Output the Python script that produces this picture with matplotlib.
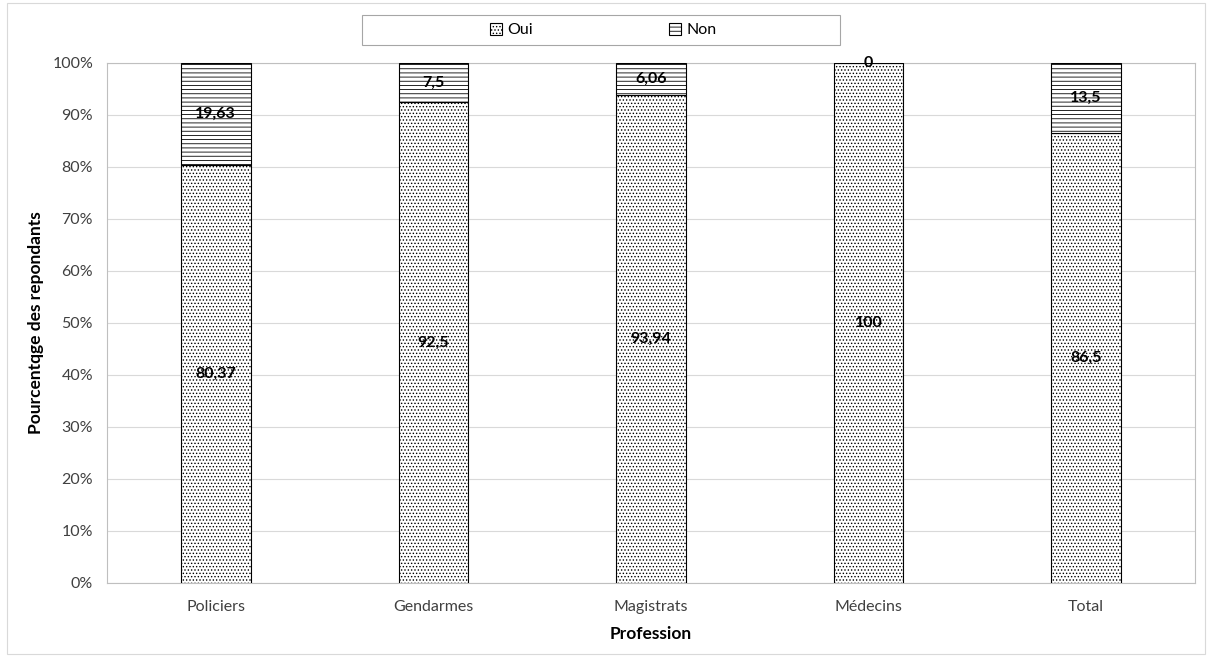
import numpy as np
import matplotlib
matplotlib.use("Agg")
import matplotlib.pyplot as plt
from matplotlib.patches import Rectangle

plt.rcParams['font.family'] = ['Lato', 'DejaVu Sans']
plt.rcParams['hatch.linewidth'] = 0.6

# données
professions = ["Policiers", "Gendarmes", "Magistrats", "Médecins", "Total"]
oui = [80.37, 92.5, 93.94, 100, 86.5]
non = [19.63, 7.5, 6.06, 0, 13.5]
oui_labels = ["80,37", "92,5", "93,94", "100", "86,5"]
non_labels = ["19,63", "7,5", "6,06", "0", "13,5"]

fig = plt.figure(figsize=(12.07, 6.57), dpi=100)
ax = fig.add_axes([107 / 1207, 1 - 583 / 657, 1088 / 1207, 520 / 657])

x = np.arange(len(professions))
w = 0.32
b1 = ax.bar(x, oui, w, color="white", edgecolor="black", hatch=".....", linewidth=0.8, label="Oui", zorder=3)
b2 = ax.bar(x, non, w, bottom=oui, color="white", edgecolor="black", hatch="----", linewidth=0.8, label="Non", zorder=3)

for i in range(len(x)):
    ax.text(x[i], oui[i] / 2, oui_labels[i], ha="center", va="center", fontsize=11.5,
            fontweight="bold", zorder=5)
    ax.text(x[i], oui[i] + non[i] / 2, non_labels[i], ha="center", va="center", fontsize=11.5,
            fontweight="bold", zorder=5)

ax.set_xlim(-0.5, len(x) - 0.5)
ax.set_ylim(0, 100)
ax.set_yticks(np.arange(0, 101, 10))
ax.set_yticklabels([f"{v}%" for v in range(0, 101, 10)])
ax.set_xticks(x)
ax.set_xticklabels(professions)
ax.tick_params(length=0, labelsize=11.5, colors="#404040")
ax.tick_params(axis="x", pad=12)
ax.tick_params(axis="y", pad=10)
ax.grid(axis="y", color="#d9d9d9", linewidth=0.8, zorder=0)
for s in ax.spines.values():
    s.set_color("#bfbfbf")
ax.set_xlabel("Profession", fontsize=12.5, fontweight="bold", labelpad=9)
ax.set_ylabel("Pourcentqge des repondants", fontsize=12.5, fontweight="bold", labelpad=6)

# légende centrée dans un cadre fixe
leg = fig.legend(handles=[b1, b2], loc="center", bbox_to_anchor=(603 / 1207, 1 - 30 / 657),
                 ncol=2, frameon=False, fontsize=11.5,
                 handlelength=0.8, handleheight=0.8, handletextpad=0.3, columnspacing=8.5)
fig.patches.append(Rectangle((362 / 1207, 1 - 45 / 657), 478 / 1207, 30 / 657, transform=fig.transFigure,
                             fill=False, edgecolor="#a6a6a6", linewidth=0.8))

fig.patches.append(Rectangle((0.006, 0.004), 0.992, 0.992, transform=fig.transFigure,
                             fill=False, edgecolor="#d9d9d9", linewidth=0.8))

fig.savefig("out.png", dpi=100)
